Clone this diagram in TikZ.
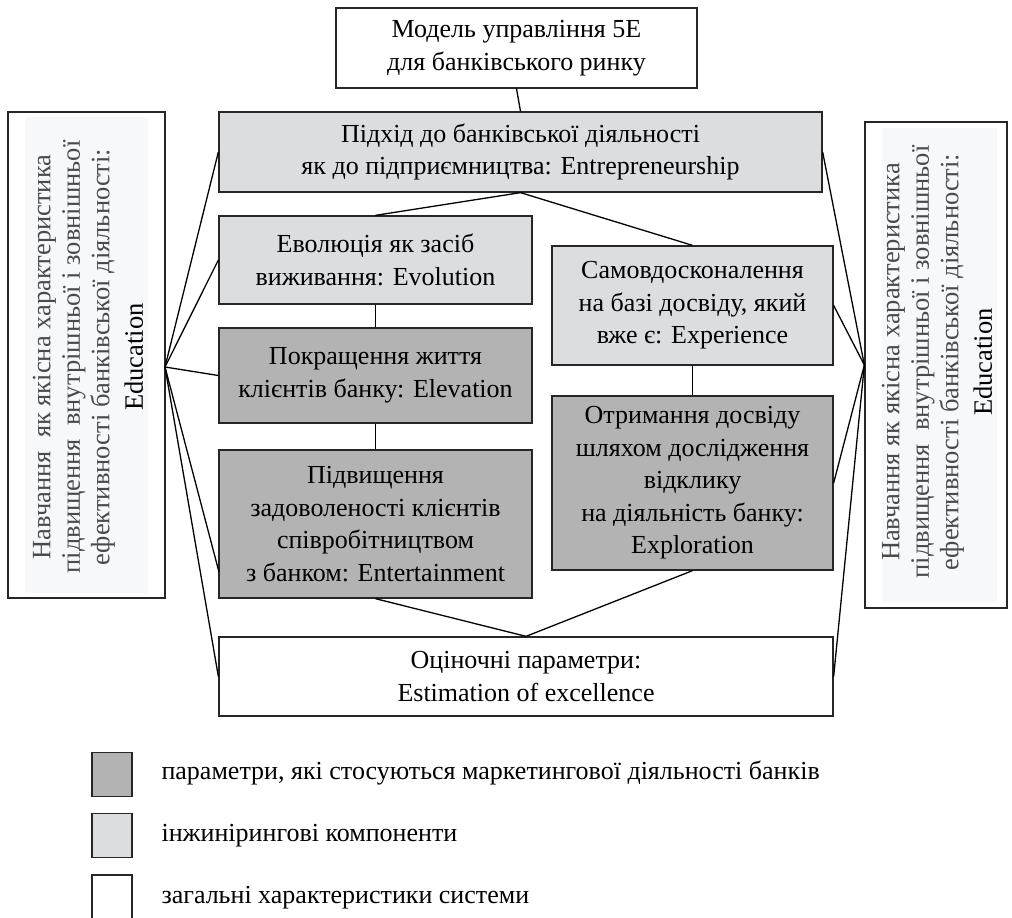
\documentclass[tikz,border=0pt]{standalone}
\usepackage{fontspec}
\setmainfont{Liberation Serif}
\definecolor{dgray}{HTML}{B3B3B3}
\definecolor{lgray}{HTML}{DCDDDF}
\definecolor{sidefill}{HTML}{F7F8FA}
\definecolor{sidetext}{HTML}{4A4A4A}
\begin{document}
\begin{tikzpicture}[x=1pt,y=-1pt,
  box/.style={draw=black!85, line width=1.3pt, align=center, inner sep=2pt, font=\fontsize{26}{32.5}\selectfont},
  conn/.style={draw=black, line width=1.3pt},
  sidetxt/.style={rotate=90, align=center, text=sidetext, font=\fontsize{26.5}{29.5}\selectfont},
  legtxt/.style={anchor=base west, font=\fontsize{26}{29}\selectfont}]
\useasboundingbox (0,0) rectangle (1012,918);

% main boxes
\node[box, fill=white, minimum width=361pt, minimum height=80pt] (top) at (516.5,48) {Модель управління 5Е\\для банківського ринку};
\node[box, fill=lgray, minimum width=603pt, minimum height=80pt] (entr) at (520.5,152) {Підхід до банківської діяльності\\як до підприємництва: Entrepreneurship};
\node[box, fill=lgray, minimum width=313pt, minimum height=88pt] (evol) at (375.5,260) {Еволюція як засіб\\виживання: Evolution};
\node[box, fill=dgray, minimum width=313pt, minimum height=95pt] (elev) at (375.5,375.5) {Покращення життя\\клієнтів банку: Elevation};
\node[box, fill=dgray, minimum width=313pt, minimum height=148pt] (entt) at (375.5,524) {Підвищення\\задоволеності клієнтів\\співробітництвом\\з банком: Entertainment};
\node[box, fill=lgray, minimum width=281pt, minimum height=119pt] (samo) at (692.5,305.5) {Самовдосконалення\\на базі досвіду, який\\вже є: Experience};
\node[box, fill=dgray, minimum width=281pt, minimum height=174pt] (expl) at (692.5,483) {Отримання досвіду\\шляхом дослідження\\відклику\\на діяльність банку:\\Exploration};
\node[box, fill=white, minimum width=614pt, minimum height=79pt] (est) at (526,676.5) {Оціночні параметри:\\Estimation of excellence};

% side boxes
\node[box, fill=white, minimum width=157pt, minimum height=486pt] (L) at (86.5,355) {};
\fill[sidefill] (25,117) rectangle (148,593);
\node[sidetxt] (Ltxt) at (88,357) {Навчання \ як якісна характеристика\\підвищення \ внутрішньої і зовнішньої\\ефективності банківської діяльності:\\[4pt]\textcolor{black}{Education}};
\node[box, fill=white, minimum width=142pt, minimum height=486pt] (R) at (936,365) {};
\fill[sidefill] (882,128) rectangle (997,602);
\node[sidetxt] (Rtxt) at (937,362) {Навчання як якісна характеристика\\підвищення \ внутрішньої і зовнішньої\\ефективності банківської діяльності:\\[4pt]\textcolor{black}{Education}};

% hubs
\coordinate (Lh) at (165,367);
\coordinate (Rh) at (R.west);
\coordinate (enttL) at (219,572);

% connectors
\draw[conn] (top.south) -- (entr.north);
\draw[conn] (entr.south) -- (evol.north);
\draw[conn] (entr.south) -- (samo.north);
\draw[conn] (evol.south) -- (elev.north);
\draw[conn] (elev.south) -- (entt.north);
\draw[conn] (samo.south) -- (expl.north);
\draw[conn] (entt.south) -- (est.north);
\draw[conn] (expl.south) -- (est.north);

\draw[conn] (Lh) -- (entr.west);
\draw[conn] (Lh) -- (evol.west);
\draw[conn] (Lh) -- (elev.west);
\draw[conn] (Lh) -- (enttL);
\draw[conn] (Lh) -- (est.west);

\draw[conn] (Rh) -- (entr.east);
\draw[conn] (Rh) -- (samo.east);
\draw[conn] (Rh) -- (expl.east);
\draw[conn] (Rh) -- (est.east);

% legend
\node[box, fill=dgray, minimum width=40pt, minimum height=44pt] (sq1) at (112,774.5) {};
\node[box, fill=lgray, minimum width=40pt, minimum height=44pt] (sq2) at (112,835.5) {};
\node[box, fill=white, minimum width=40pt, minimum height=44pt] (sq3) at (112,897) {};
\node[legtxt] (t1) at (158,779) {параметри, які стосуються маркетингової діяльності банків};
\node[legtxt] (t2) at (158,841) {інжинірингові компоненти};
\node[legtxt] (t3) at (158,903) {загальні характеристики системи};
\end{tikzpicture}
\end{document}
